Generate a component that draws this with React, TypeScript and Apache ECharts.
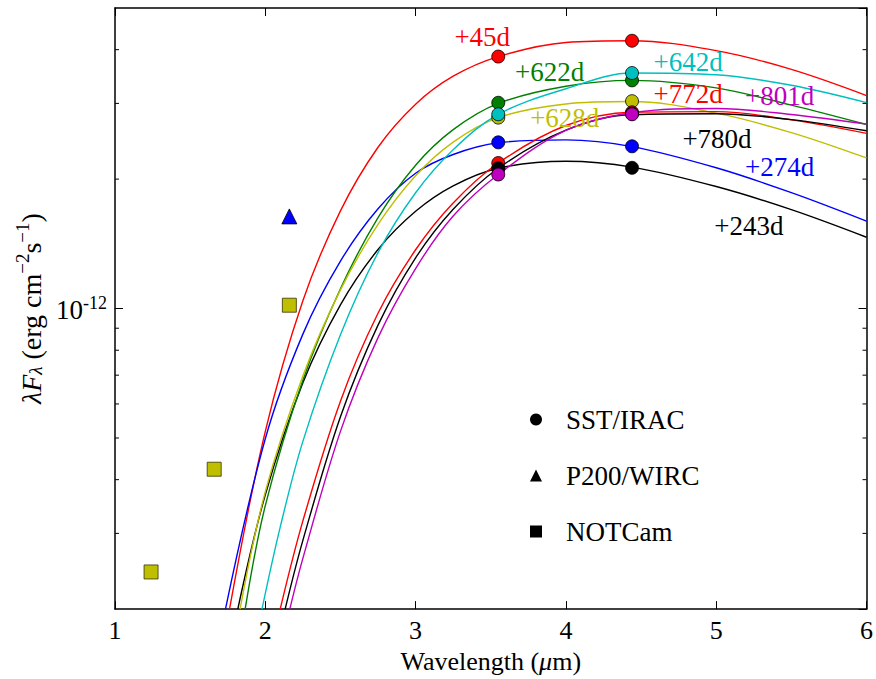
import React, { useEffect, useRef } from 'react';
import * as echarts from 'echarts';

const fontFamily = 'Liberation Serif, Times New Roman, serif';

// Epochs (days) and their colours
const epochs = ['+45d', '+243d', '+274d', '+622d', '+628d', '+642d', '+772d', '+780d', '+801d'];
const epochColors = ['#ff0000', '#000000', '#0000ff', '#008000', '#bfbf00', '#00bfbf', '#ff0000', '#000000', '#bf00bf'];

// SST/IRAC photometry (3.6 and 4.5 micron channels)
const iracWavelengths = [3.55, 4.44];
const irac36 = [3.855e-12, 2.113e-12, 2.435e-12, 3.01e-12, 2.78e-12, 2.83e-12, 2.18e-12, 2.12e-12, 2.05e-12];
const irac45 = [4.196e-12, 2.125e-12, 2.384e-12, 3.394e-12, 3.036e-12, 3.53e-12, 2.86e-12, 2.84e-12, 2.83e-12];

// P200/WIRC Ks
const wircWavelengths = [2.16];
const wircFlux = [1.638e-12];

// NOTCam J, H, Ks
const notcamWavelengths = [1.24, 1.66, 2.16];
const notcamFlux = [2.44e-13, 4.23e-13, 1.018e-12];

// Model curves
const fit45Wl = [1.762, 2.0, 2.25, 2.5, 2.75, 3.0, 3.25, 3.55, 4.0, 4.44, 5.0, 5.5, 6.0];
const fit45 = [2.0e-13, 5.18e-13, 1.043e-12, 1.687e-12, 2.372e-12, 2.987e-12, 3.47e-12, 3.855e-12, 4.156e-12, 4.196e-12, 3.979e-12, 3.599e-12, 3.129e-12];

const fit243Wl = [1.817, 2.0, 2.25, 2.5, 2.75, 3.0, 3.25, 3.55, 4.0, 4.44, 5.0, 5.5, 6.0];
const fit243 = [2.0e-13, 3.69e-13, 6.72e-13, 1.02e-12, 1.372e-12, 1.683e-12, 1.929e-12, 2.12e-12, 2.201e-12, 2.133e-12, 1.922e-12, 1.698e-12, 1.465e-12];

const fit274Wl = [1.735, 2.0, 2.25, 2.5, 2.75, 3.0, 3.25, 3.55, 4.0, 4.44, 5.0, 5.5, 6.0];
const fit274 = [2.0e-13, 4.98e-13, 8.72e-13, 1.289e-12, 1.706e-12, 2.064e-12, 2.282e-12, 2.43e-12, 2.467e-12, 2.38e-12, 2.125e-12, 1.86e-12, 1.597e-12];

const fit622Wl = [1.866, 2.0, 2.25, 2.5, 2.75, 3.0, 3.25, 3.55, 4.0, 4.44, 5.0, 5.5, 6.0];
const fit622 = [2.0e-13, 3.48e-13, 6.81e-13, 1.112e-12, 1.627e-12, 2.154e-12, 2.606e-12, 3.0e-12, 3.289e-12, 3.394e-12, 3.26e-12, 2.972e-12, 2.679e-12];

const fit628Wl = [1.832, 2.0, 2.25, 2.5, 2.75, 3.0, 3.25, 3.55, 4.0, 4.44, 5.0, 5.5, 6.0];
const fit628 = [2.0e-13, 3.75e-13, 6.97e-13, 1.105e-12, 1.569e-12, 2.036e-12, 2.439e-12, 2.78e-12, 2.991e-12, 3.03e-12, 2.847e-12, 2.566e-12, 2.24e-12];

const fit642Wl = [1.978, 2.1, 2.25, 2.5, 2.75, 3.0, 3.25, 3.55, 4.0, 4.44, 5.0, 5.5, 6.0];
const fit642 = [2.0e-13, 3.11e-13, 4.91e-13, 8.69e-13, 1.349e-12, 1.859e-12, 2.341e-12, 2.83e-12, 3.244e-12, 3.53e-12, 3.496e-12, 3.305e-12, 3.012e-12];

const fit772Wl = [2.099, 2.25, 2.5, 2.75, 3.0, 3.25, 3.55, 4.0, 4.44, 5.0, 5.5, 6.0];
const fit772 = [2.0e-13, 3.207e-13, 6.09e-13, 9.75e-13, 1.37e-12, 1.76e-12, 2.18e-12, 2.665e-12, 2.86e-12, 2.87e-12, 2.746e-12, 2.555e-12];

const fit780Wl = [2.132, 2.25, 2.5, 2.75, 3.0, 3.25, 3.55, 4.0, 4.44, 5.0, 5.5, 6.0];
const fit780 = [2.0e-13, 2.89e-13, 5.6e-13, 9.15e-13, 1.312e-12, 1.702e-12, 2.12e-12, 2.599e-12, 2.826e-12, 2.839e-12, 2.75e-12, 2.591e-12];

const fit801Wl = [2.163, 2.25, 2.5, 2.75, 3.0, 3.25, 3.55, 4.0, 4.44, 5.0, 5.5, 6.0];
const fit801 = [2.0e-13, 2.625e-13, 5.18e-13, 8.56e-13, 1.239e-12, 1.641e-12, 2.05e-12, 2.597e-12, 2.853e-12, 2.919e-12, 2.827e-12, 2.685e-12];

const fitWavelengths = [fit45Wl, fit243Wl, fit274Wl, fit622Wl, fit628Wl, fit642Wl, fit772Wl, fit780Wl, fit801Wl];
const fitFluxes = [fit45, fit243, fit274, fit622, fit628, fit642, fit772, fit780, fit801];

// Epoch label anchor points (left edge of text), in data units
const labelWl = [3.258, 4.987, 5.192, 3.662, 3.762, 4.583, 4.583, 4.775, 5.192];
const labelFlux = [4.27e-12, 1.553e-12, 2.136e-12, 3.544e-12, 2.777e-12, 3.738e-12, 3.154e-12, 2.484e-12, 3.121e-12];

// Axis settings
const xTicks = [1, 2, 3, 4, 5, 6];
const yMin = 2e-13;
const yMax = 5e-12;
const minorTickValues = [3e-13, 4e-13, 5e-13, 6e-13, 7e-13, 8e-13, 9e-13, 2e-12, 3e-12, 4e-12];

const legendNames = ['SST/IRAC', 'P200/WIRC', 'NOTCam'];

function buildOption(): any {
  const lineSeries = fitFluxes.map((flux, i) => ({
    name: epochs[i] + ' fit',
    type: 'line',
    data: flux.map((v, j) => [fitWavelengths[i][j], v]),
    smooth: 0.35,
    showSymbol: false,
    symbol: 'none',
    clip: true,
    lineStyle: { color: epochColors[i], width: 1.4, opacity: 1 },
    z: 2,
    silent: true,
  }));

  const iracData: any[] = [];
  epochs.forEach((_, i) => {
    [irac36[i], irac45[i]].forEach((v, j) => {
      iracData.push({
        value: [iracWavelengths[j], v],
        itemStyle: { color: epochColors[i], borderColor: '#000', borderWidth: 0.8, opacity: 1 },
      });
    });
  });

  const axisLine = { show: true, onZero: false, lineStyle: { color: '#000', width: 1.5 } };
  const tick = { show: true, inside: true, length: 8, lineStyle: { color: '#000', width: 1 } };

  return {
    animation: false,
    backgroundColor: '#ffffff',
    grid: { left: 115, right: 6, top: 8, bottom: 65, containLabel: false },
    legend: {
      left: 525,
      top: 401,
      orient: 'vertical',
      itemGap: 29,
      itemWidth: 12,
      itemHeight: 12,
      selectedMode: false,
      textStyle: { fontSize: 27, fontFamily, color: '#000', padding: [0, 0, 0, 19] },
      data: [
        { name: legendNames[0], icon: 'circle', itemStyle: { color: '#000', borderWidth: 0, opacity: 1 } },
        { name: legendNames[1], icon: 'triangle', itemStyle: { color: '#000', borderWidth: 0, opacity: 1 } },
        { name: legendNames[2], icon: 'rect', itemStyle: { color: '#000', borderWidth: 0, opacity: 1 } },
      ],
    },
    xAxis: [
      {
        type: 'value',
        min: xTicks[0],
        max: xTicks[xTicks.length - 1],
        interval: 1,
        position: 'bottom',
        axisLine,
        axisTick: tick,
        splitLine: { show: false },
        axisLabel: { color: '#000', fontSize: 26, fontFamily, margin: 8 },
        name: 'Wavelength ({i|μ}m)',
        nameLocation: 'middle',
        nameGap: 36,
        nameTextStyle: {
          color: '#000',
          fontSize: 26,
          fontFamily,
          rich: { i: { fontStyle: 'italic', fontSize: 26, fontFamily, color: '#000' } },
        },
      },
      {
        type: 'value',
        min: xTicks[0],
        max: xTicks[xTicks.length - 1],
        interval: 1,
        position: 'top',
        axisLine,
        axisTick: tick,
        splitLine: { show: false },
        axisLabel: { show: false },
      },
    ],
    yAxis: [
      {
        type: 'log',
        logBase: 10,
        min: yMin,
        max: yMax,
        position: 'left',
        axisLine,
        axisTick: tick,
        splitLine: { show: false },
        minorTick: { show: false },
        axisLabel: {
          showMinLabel: false,
          showMaxLabel: false,
          margin: 8,
          formatter: (v: number) => {
            const e = Math.log10(v);
            const r = Math.round(e);
            if (Math.abs(e - r) > 1e-6) return '';
            return `{b|10}{p|${r}}`;
          },
          rich: {
            b: { fontSize: 27, fontFamily, color: '#000', lineHeight: 30, verticalAlign: 'bottom' },
            p: { fontSize: 18, fontFamily, color: '#000', lineHeight: 16, verticalAlign: 'top' },
          },
        },
        name: '{m|λF}{sub|λ}{t| (erg cm}{sup|−2}{t|s}{sup|−1}{t|)}',
        nameLocation: 'middle',
        nameRotate: 90,
        nameGap: 66,
        nameTextStyle: {
          color: '#000',
          fontSize: 28,
          fontFamily,
          rich: {
            m: { fontSize: 28, fontStyle: 'italic', fontFamily, color: '#000', lineHeight: 32, verticalAlign: 'bottom' },
            sub: { fontSize: 19, fontStyle: 'italic', fontFamily, color: '#000', lineHeight: 15, verticalAlign: 'bottom' },
            t: { fontSize: 28, fontFamily, color: '#000', lineHeight: 32, verticalAlign: 'bottom' },
            sup: { fontSize: 19, fontFamily, color: '#000', lineHeight: 15, verticalAlign: 'top' },
          },
        },
      },
      {
        type: 'log',
        logBase: 10,
        min: yMin,
        max: yMax,
        position: 'right',
        axisLine,
        axisTick: tick,
        splitLine: { show: false },
        axisLabel: { show: false },
      },
    ],
    series: [
      ...lineSeries,
      {
        name: 'minor ticks',
        type: 'custom',
        silent: true,
        z: 6,
        data: minorTickValues.map((v) => [xTicks[0], v]),
        renderItem: (_params: any, api: any) => {
          const v = api.value(1);
          const l = api.coord([xTicks[0], v]);
          const r = api.coord([xTicks[xTicks.length - 1], v]);
          return {
            type: 'group',
            children: [
              { type: 'line', shape: { x1: l[0], y1: l[1], x2: l[0] + 4, y2: l[1] }, style: { stroke: '#000', lineWidth: 1 } },
              { type: 'line', shape: { x1: r[0] - 4, y1: r[1], x2: r[0], y2: r[1] }, style: { stroke: '#000', lineWidth: 1 } },
            ],
          };
        },
      },
      {
        name: legendNames[0],
        type: 'scatter',
        symbol: 'circle',
        symbolSize: 13,
        data: iracData,
        itemStyle: { color: '#000', borderColor: '#000', borderWidth: 0.8, opacity: 1 },
        z: 4,
        silent: true,
      },
      {
        name: legendNames[1],
        type: 'scatter',
        symbol: 'triangle',
        symbolSize: 15,
        data: wircFlux.map((v, i) => [wircWavelengths[i], v]),
        itemStyle: { color: '#0000ff', borderColor: '#000', borderWidth: 0.8, opacity: 1 },
        z: 4,
        silent: true,
      },
      {
        name: legendNames[2],
        type: 'scatter',
        symbol: 'rect',
        symbolSize: 14,
        data: notcamFlux.map((v, i) => [notcamWavelengths[i], v]),
        itemStyle: { color: '#bfbf00', borderColor: '#333300', borderWidth: 0.8, opacity: 1 },
        z: 4,
        silent: true,
      },
      {
        name: 'epoch labels',
        type: 'scatter',
        symbolSize: 0,
        silent: true,
        z: 5,
        itemStyle: { opacity: 1 },
        data: epochs.map((e, i) => ({
          value: [labelWl[i], labelFlux[i]],
          label: {
            show: true,
            position: 'right',
            distance: 0,
            formatter: e,
            color: epochColors[i],
            opacity: 1,
            fontSize: 27,
            fontFamily,
          },
        })),
      },
    ],
  };
}

export default function App() {
  const ref = useRef<HTMLDivElement>(null);
  useEffect(() => {
    document.body.style.margin = '0';
    const chart = echarts.init(ref.current as HTMLDivElement, null, { renderer: 'svg' });
    chart.setOption(buildOption());
    return () => chart.dispose();
  }, []);
  return <div ref={ref} style={{ width: 876, height: 679 }} />;
}
